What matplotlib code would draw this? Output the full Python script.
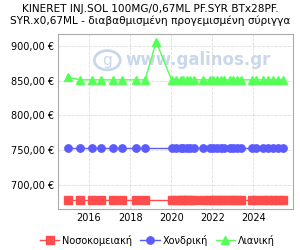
import matplotlib
matplotlib.use("Agg")
import matplotlib.pyplot as plt
from matplotlib.ticker import FuncFormatter
from matplotlib.patches import Circle

# dates (decimal years) of the price records
dates = [2014.97, 2015.56, 2016.15, 2016.6, 2017.15, 2017.6, 2018.29, 2018.73, 2019.27,
         2020.02, 2020.26, 2020.46, 2020.59, 2020.75, 2020.91, 2021.12, 2021.53,
         2021.89, 2022.05, 2022.21, 2022.41, 2022.57, 2022.86, 2023.02, 2023.22,
         2023.38, 2023.92, 2024.13, 2024.49, 2024.73, 2024.98, 2025.22, 2025.43]

hospital = [677.5] * 8 + [677.5] + [677.5] * 24
wholesale = [753.5] * 8 + [753.5] + [753.5] * 24
retail = [855, 851, 851, 851, 851, 851, 851, 851, 906] + [851] * 24

# hospital/wholesale have no point at the 2019 spike date
h_dates = dates[:8] + dates[9:]
h_vals = hospital[:8] + hospital[9:]
w_vals = wholesale[:8] + wholesale[9:]

labels = ["Νοσοκομειακή", "Χονδρική", "Λιανική"]
title = "KINERET INJ.SOL 100MG/0,67ML PF.SYR BTx28PF.\nSYR.x0,67ML - διαβαθμισμένη προγεμισμένη σύριγγα"

fig = plt.figure(figsize=(3, 2.5), dpi=100)
ax = fig.add_axes([58 / 300, 1 - 209 / 250, (292.7 - 58) / 300, (209 - 34) / 250])

ms = 5.3
ax.plot(h_dates, h_vals, color="#ff4d4d", marker="s", markersize=ms, lw=1, label=labels[0])
ax.plot(h_dates, w_vals, color="#5b5bff", marker="o", markersize=ms, lw=1, label=labels[1])
ax.plot(dates, retail, color="#55ff55", marker="^", markersize=ms, lw=1, label=labels[2])

ax.set_xlim(2014.49, 2025.92)
ax.set_ylim(665, 917)
ax.set_xticks([2016, 2018, 2020, 2022, 2024])
ax.set_yticks([700, 750, 800, 850, 900])
ax.yaxis.set_major_formatter(FuncFormatter(lambda v, p: f"{v:.2f}".replace(".", ",") + " €"))
ax.tick_params(labelsize=7, length=0, pad=3)
ax.grid(True, ls="--", color="#dddddd", lw=0.6)
ax.set_axisbelow(True)
for s in ax.spines.values():
    s.set_color("#aaaaaa")

# watermark
ax.text(0.595, 0.85, "www.galinos.gr", transform=ax.transAxes, ha="center", va="center",
        fontsize=12, color="#c9d7ea", fontweight="bold", zorder=0)
ax.add_patch(Circle((0.21, 0.85), 0.055, transform=ax.transAxes, fill=False,
                    ec="#c9d7ea", lw=2, zorder=0))
ax.text(0.21, 0.85, "g", transform=ax.transAxes, ha="center", va="center",
        fontsize=11, color="#c9d7ea", zorder=0)

fig.text(0.5, 0.985, title, ha="center", va="top", fontsize=7.6, linespacing=1.2)
fig.legend(loc="center", bbox_to_anchor=(0.525, 0.04), ncol=3, frameon=False, fontsize=7,
           handlelength=2, columnspacing=0.8, handletextpad=0.3)

fig.savefig("out.png", dpi=100)
